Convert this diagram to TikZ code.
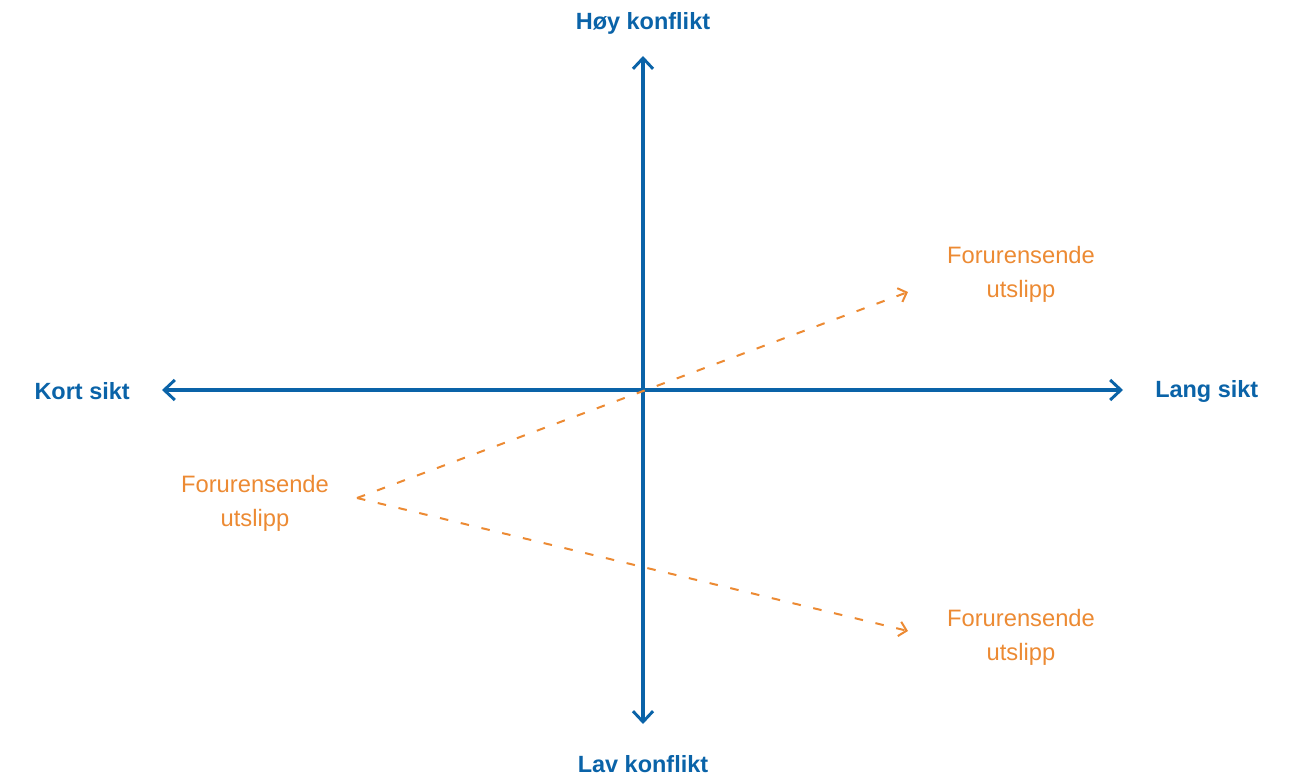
\documentclass[tikz,border=0pt]{standalone}
\usepackage{fontspec}
\setmainfont{Liberation Sans}
\usetikzlibrary{arrows.meta}
\definecolor{axisblue}{HTML}{0A63A8}
\definecolor{flow}{HTML}{EC8A33}
\begin{document}
\begin{tikzpicture}[x=0.75pt,y=-0.75pt,
  axis/.style={draw=axisblue,line width=2.3pt,{Straight Barb[length=8pt,width=15pt,line width=2.2pt]}-{Straight Barb[length=8pt,width=15pt,line width=2.2pt]}},
  axislabel/.style={text=axisblue,font=\fontsize{17.6}{20}\selectfont\bfseries,inner sep=0pt},
  flowline/.style={draw=flow,line width=1.5pt,dash pattern=on 6.4pt off 9.6pt,-{Straight Barb[length=5.5pt,width=11pt,line width=1.5pt]}},
  flowlabel/.style={text=flow,font=\fontsize{17.8}{25.5}\selectfont,align=center,inner sep=0pt}]
\useasboundingbox (0,0) rectangle (1290,777);
% axis end points
\coordinate (top) at (643,56);
\coordinate (bottom) at (643,724);
\coordinate (left) at (162,390);
\coordinate (right) at (1123,390);
\draw[axis] (bottom) -- (top);
\draw[axis] (left) -- (right);
% axis labels
\node[axislabel] (hoy) at (643,23) {Høy konflikt};
\node[axislabel] (lav) at (643,764) {Lav konflikt};
\node[axislabel,anchor=east] (kort) at (130,391) {Kort sikt};
\node[axislabel,anchor=west] (lang) at (1155,391) {Lang sikt};
% flow labels
\node[flowlabel] (srcl) at (255,503) {Forurensende\\utslipp};
\node[flowlabel] (upl) at (1021,274) {Forurensende\\utslipp};
\node[flowlabel] (downl) at (1021,637) {Forurensende\\utslipp};
% flow lines
\coordinate (src) at (357,498);
\coordinate (upend) at (908,292);
\coordinate (downend) at (908,631);
\draw[flowline] (src) -- (upend);
\draw[flowline] (src) -- (downend);
\end{tikzpicture}
\end{document}
